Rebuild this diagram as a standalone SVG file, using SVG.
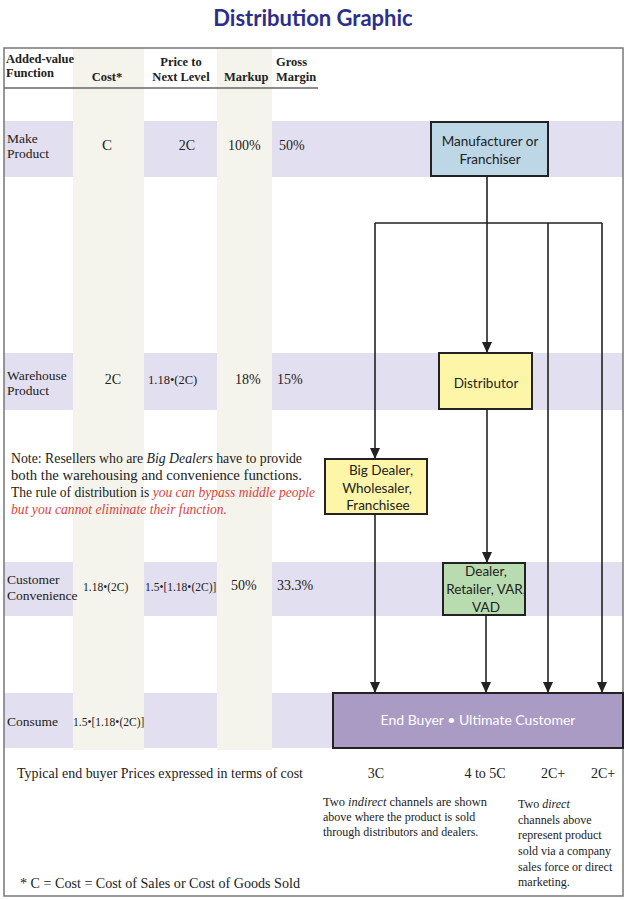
<svg xmlns="http://www.w3.org/2000/svg" width="635" height="900" viewBox="0 0 635 900">
<style>
.serif{font-family:"Liberation Serif","Times New Roman",serif;fill:#222}
.hdr{font-size:12.5px;font-weight:bold}
.lbl{font-size:13.5px}
.val{font-size:14px}
.sm{font-size:11.5px}
.note{font-size:14px}
.red{fill:#d9453c;font-style:italic}
.sans{font-family:Lato,"Open Sans","Liberation Sans",sans-serif;fill:#222;font-size:13.5px;text-anchor:middle}
.box{stroke:#222;stroke-width:2}
.conn{stroke:#222;stroke-width:1.6;fill:none}
.arr{marker-end:url(#ah)}
</style>
<defs>
<marker id="ah" markerUnits="userSpaceOnUse" markerWidth="11" markerHeight="10" refX="11" refY="5" orient="auto" viewBox="0 0 11 10">
<path d="M0,0 L11,5 L0,10 z" fill="#222"/>
</marker>
</defs>
<rect width="635" height="900" fill="#fff"/>
<text x="313" y="26" text-anchor="middle" font-family="Lato,'Liberation Sans',sans-serif" font-weight="bold" font-size="22" fill="#2b2e8a">Distribution Graphic</text>
<g id="rows" fill="#e1dff0">
<rect x="4" y="121" width="619" height="56"/>
<rect x="4" y="353" width="619" height="57"/>
<rect x="4" y="562" width="619" height="54"/>
<rect x="4" y="693" width="619" height="55"/>
</g>
<g id="columns" fill="#f4f4ec">
<rect x="73" y="48" width="71" height="702"/>
<rect x="217" y="48" width="55" height="702"/>
</g>
<rect id="frame" x="4" y="48" width="619" height="848" fill="none" stroke="#777" stroke-width="1.5"/>
<line x1="4" y1="88" x2="318" y2="88" stroke="#666" stroke-width="1.5"/>
<g id="header" class="serif hdr">
<text x="6" y="63">Added-value</text>
<text x="6" y="77">Function</text>
<text x="107" y="81" text-anchor="middle">Cost*</text>
<text x="181" y="66" text-anchor="middle">Price to</text>
<text x="181" y="81" text-anchor="middle">Next Level</text>
<text x="224" y="81">Markup</text>
<text x="276" y="66">Gross</text>
<text x="276" y="81">Margin</text>
</g>
<g id="row-make" class="serif">
<text class="lbl" x="7" y="143">Make</text>
<text class="lbl" x="7" y="158">Product</text>
<text x="107" y="150" text-anchor="middle" font-size="15">C</text>
<text class="val" x="187" y="150" text-anchor="middle">2C</text>
<text class="val" x="228" y="150">100%</text>
<text class="val" x="279" y="150">50%</text>
</g>
<g id="row-warehouse" class="serif">
<text class="lbl" x="7" y="380">Warehouse</text>
<text class="lbl" x="7" y="395">Product</text>
<text class="val" x="113" y="384" text-anchor="middle">2C</text>
<text x="148" y="384" font-size="12.5">1.18•(2C)</text>
<text class="val" x="235" y="384">18%</text>
<text class="val" x="277" y="384">15%</text>
</g>
<g id="row-convenience" class="serif">
<text class="lbl" x="7" y="584">Customer</text>
<text class="lbl" x="7" y="600">Convenience</text>
<text class="sm" x="83" y="591">1.18•(2C)</text>
<text class="sm" x="145" y="591">1.5•[1.18•(2C)]</text>
<text class="val" x="231" y="590">50%</text>
<text class="val" x="277" y="590">33.3%</text>
</g>
<g id="row-consume" class="serif">
<text class="lbl" x="7" y="726">Consume</text>
<text class="sm" x="73" y="726">1.5•[1.18•(2C)]</text>
</g>
<g id="note" class="serif note">
<text x="11" y="463" textLength="291" lengthAdjust="spacingAndGlyphs">Note: Resellers who are <tspan font-style="italic">Big Dealers</tspan> have to provide</text>
<text x="11" y="480" textLength="291" lengthAdjust="spacingAndGlyphs">both the warehousing and convenience functions.</text>
<text x="11" y="497" textLength="304" lengthAdjust="spacingAndGlyphs">The rule of distribution is <tspan class="red">you can bypass middle people</tspan></text>
<text x="11" y="514" class="red" textLength="216" lengthAdjust="spacingAndGlyphs">but you cannot eliminate their function.</text>
</g>
<g id="connectors">
<path class="conn" d="M487,177 V223 M375,223 H602"/>
<path class="conn arr" d="M375,223 V459"/>
<path class="conn arr" d="M487,223 V353"/>
<path class="conn arr" d="M548,223 V693"/>
<path class="conn arr" d="M602,223 V693"/>
<path class="conn arr" d="M487,410 V563"/>
<path class="conn arr" d="M375,515 V693"/>
<path class="conn arr" d="M486,616 V693"/>
</g>
<g id="manufacturer">
<rect class="box" x="431" y="122" width="117" height="54" fill="#bdd7e7"/>
<text class="sans" x="490" y="146">Manufacturer or</text>
<text class="sans" x="490" y="164">Franchiser</text>
</g>
<g id="distributor">
<rect class="box" x="439" y="353" width="93" height="56" fill="#fdf6a8"/>
<text class="sans" x="486" y="388">Distributor</text>
</g>
<g id="big-dealer">
<rect class="box" x="325" y="459" width="102" height="55" fill="#fdf6a8"/>
<text class="sans" x="381" y="475">Big Dealer,</text>
<text class="sans" x="377" y="493">Wholesaler,</text>
<text class="sans" x="378" y="510">Franchisee</text>
</g>
<g id="dealer">
<rect class="box" x="443" y="563" width="82" height="52" fill="#b8dcb0"/>
<text class="sans" x="486" y="576">Dealer,</text>
<text class="sans" x="486" y="594">Retailer, VAR,</text>
<text class="sans" x="486" y="612">VAD</text>
</g>
<g id="end-buyer">
<rect class="box" x="333" y="693" width="290" height="55" fill="#a99bc4"/>
<text class="sans" x="478" y="725" style="fill:#fff;font-size:14px">End Buyer • Ultimate Customer</text>
</g>
<g id="prices" class="serif val">
<text x="17" y="778" textLength="286" lengthAdjust="spacingAndGlyphs">Typical end buyer Prices expressed in terms of cost</text>
<text x="376" y="778" text-anchor="middle">3C</text>
<text x="485" y="778" text-anchor="middle">4 to 5C</text>
<text x="553" y="778" text-anchor="middle">2C+</text>
<text x="603" y="778" text-anchor="middle">2C+</text>
<text x="20" y="888" textLength="280" lengthAdjust="spacingAndGlyphs">* C = Cost = Cost of Sales or Cost of Goods Sold</text>
</g>
<g id="notes-bottom" class="serif" font-size="12">
<text x="323" y="806" textLength="164" lengthAdjust="spacingAndGlyphs">Two <tspan font-style="italic">indirect</tspan> channels are shown</text>
<text x="323" y="821">above where the product is sold</text>
<text x="323" y="836">through distributors and dealers.</text>
<text x="518" y="808">Two <tspan font-style="italic">direct</tspan></text>
<text x="518" y="824">channels above</text>
<text x="518" y="839">represent product</text>
<text x="518" y="855">sold via a company</text>
<text x="518" y="871">sales force or direct</text>
<text x="518" y="886">marketing.</text>
</g>
</svg>
